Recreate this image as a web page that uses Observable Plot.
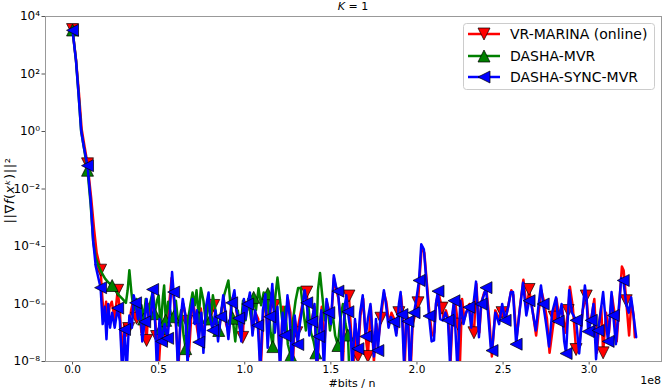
<!DOCTYPE html>
<html>
<head>
<meta charset="utf-8">
<script src="https://cdn.jsdelivr.net/npm/d3@7"></script>
<script src="https://cdn.jsdelivr.net/npm/@observablehq/plot@0.6"></script>
<style>
  html, body { margin: 0; padding: 0; background: white; }
  #chart { width: 665px; height: 389px; }
</style>
</head>
<body>
<div id="chart"></div>
<script>
// ---- data (x in units of 1e8 bits / n, y = ||grad f(x^k)||^2) ----
const seriesNames = ["VR-MARINA (online)", "DASHA-MVR", "DASHA-SYNC-MVR"];
const seriesColors = ["#ff0000", "#008000", "#0000ff"];

const xTicks = [0, 0.5, 1, 1.5, 2, 2.5, 3];
const xTickLabels = ["0.0", "0.5", "1.0", "1.5", "2.0", "2.5", "3.0"];
const yTicks = [1e-8, 1e-6, 1e-4, 1e-2, 1e0, 1e2, 1e4];
const yTickLabels = ["10\u207B\u2078", "10\u207B\u2076", "10\u207B\u2074", "10\u207B\u00B2", "10\u2070", "10\u00B2", "10\u2074"];

const vrMarina = [
[0,3.5e3],[0.02,3.2e2],[0.037,2.2e1],[0.053,1.2],[0.068,3.5e-1],[0.087,7.5e-2],[0.108,5e-3],[0.125,4e-4],[0.14,6e-5],[0.152,3e-5],
[0.163,1.5e-5],[0.172,2e-6],[0.182,3e-7],[0.195,1.2e-6],[0.205,2e-7],[0.215,8e-7],[0.228,1.2e-6],[0.245,3e-7],[0.262,3e-6],[0.275,6e-7],
[0.288,1e-8],[0.30,2e-7],[0.313,8e-8],[0.326,1.4e-7],[0.34,6e-7],[0.355,1.5e-6],[0.372,3.2e-7],[0.385,1.2e-6],[0.40,1e-7],[0.415,5e-7],
[0.43,5.4e-8],[0.442,1e-6],[0.455,3e-7],[0.467,2.5e-6],[0.478,4e-7],[0.488,7.4e-8],[0.50,5e-9],[0.515,2e-7],[0.53,1e-7],[0.545,4e-8],
[0.56,8e-7],[0.575,8e-6],[0.588,1.5e-6],[0.60,2e-7],[0.615,6e-9],[0.628,3e-7],[0.643,1e-6],[0.663,2.5e-7],[0.675,1.5e-8],[0.69,4e-7],
[0.70,1.2e-6],[0.715,3e-7],[0.73,8e-8],[0.745,7e-7],[0.76,5e-8],[0.775,5e-7],[0.79,2e-6],[0.805,4e-7],[0.82,8.9e-7],[0.835,3e-7],
[0.85,8e-8],[0.862,5e-7],[0.878,1.5e-6],[0.892,2e-7],[0.908,1e-7],[0.925,1.5e-6],[0.94,2e-6],[0.955,4e-7],[0.97,1.5e-7],[0.988,6.9e-8],
[1.0,1.2e-6],[1.015,6e-7],[1.03,1.8e-6],[1.045,1e-7],[1.062,5e-7],[1.078,3e-7],[1.092,4e-9],[1.108,5e-7],[1.122,1.5e-6],[1.135,1e-7],
[1.15,6e-7],[1.162,3e-6],[1.174,8.9e-7],[1.19,4e-7],[1.205,1e-8],[1.222,8e-7],[1.235,1.5e-7],[1.25,1.6e-6],[1.265,5e-7],[1.278,4e-9],
[1.29,3e-7],[1.302,1e-7],[1.318,3e-7],[1.335,1e-6],[1.348,2.5e-6],[1.36,2.6e-6],[1.375,1.2e-7],[1.39,3e-7],[1.405,8e-7],[1.42,4e-9],
[1.433,1.2e-7],[1.447,8e-7],[1.462,3e-8],[1.476,1.2e-6],[1.49,6e-7],[1.502,3e-7],[1.518,8e-6],[1.532,3e-6],[1.545,1.5e-6],[1.558,2e-7],
[1.568,4e-9],[1.582,6e-7],[1.595,1.5e-6],[1.605,1.9e-6],[1.62,6e-8],[1.63,3e-9],[1.643,2e-7],[1.657,1.5e-8],[1.672,4e-7],[1.688,1.5e-6],
[1.70,1e-7],[1.715,1.5e-8],[1.732,8e-7],[1.75,1e-8],[1.765,2e-7],[1.775,5e-8],[1.791,3.2e-7],[1.808,2.5e-6],[1.822,1.2e-6],[1.838,2e-7],
[1.852,5e-7],[1.868,3e-7],[1.882,1e-7],[1.895,5e-7],[1.907,2e-6],[1.916,6e-7],[1.928,5e-9],[1.94,4e-7],[1.95,3e-7],[1.962,3e-9],
[1.975,2e-7],[1.988,4e-7],[2.006,1.1e-6],[2.015,8e-6],[2.028,1e-4],[2.043,6e-5],[2.058,5e-6],[2.072,5e-7],[2.088,8e-8],[2.10,1e-7],
[2.112,1.2e-6],[2.125,2.5e-6],[2.145,7.2e-7],[2.155,3e-7],[2.168,6e-7],[2.182,3e-7],[2.195,1e-8],[2.208,5e-7],[2.22,1.5e-6],[2.238,2e-7],
[2.25,1e-8],[2.262,1.5e-6],[2.275,3e-7],[2.29,6e-7],[2.305,1e-6],[2.318,2e-7],[2.331,1e-7],[2.345,5e-6],[2.362,1e-7],[2.375,1.2e-6],
[2.39,2.5e-6],[2.404,3e-6],[2.42,3e-7],[2.435,1.5e-8],[2.455,6e-7],[2.478,3e-7],[2.494,5e-7],[2.515,3e-7],[2.532,1e-6],[2.548,3e-6],
[2.56,2e-6],[2.578,6e-8],[2.598,8e-7],[2.618,7e-6],[2.638,6e-7],[2.651,3.2e-6],[2.668,8e-7],[2.692,8e-8],[2.708,6e-7],[2.722,3e-6],
[2.738,1.2e-6],[2.755,3e-7],[2.77,2e-8],[2.797,3.5e-7],[2.81,1.5e-6],[2.825,4e-7],[2.842,8e-7],[2.86,1e-7],[2.878,5.9e-7],[2.888,4e-6],
[2.905,8e-7],[2.924,2.6e-8],[2.945,5e-8],[2.962,6e-7],[2.983,1.9e-6],[2.998,2e-7],[3.015,4e-7],[3.03,1.5e-6],[3.045,2e-8],[3.058,2e-7],
[3.07,8e-7],[3.081,2e-8],[3.098,5e-7],[3.115,1e-7],[3.132,2e-6],[3.145,6e-7],[3.16,5e-8],[3.175,1e-6],[3.19,2e-5],[3.2,1.5e-5],
[3.215,1.3e-6],[3.232,8e-8],[3.245,1.2e-6],[3.258,4e-7],[3.265,7e-8]
];
const vrMarinaMarkers = [
[0,3.5e3],[0.087,7.5e-2],[0.163,1.5e-5],[0.262,3e-6],[0.326,1.4e-7],[0.372,3.2e-7],[0.43,5.4e-8],[0.488,7.4e-8],[0.663,2.5e-7],[0.82,8.9e-7],
[0.988,6.9e-8],[1.174,8.9e-7],[1.302,1e-7],[1.36,2.6e-6],[1.605,1.9e-6],[1.657,1.5e-8],[1.715,1.5e-8],[1.791,3.2e-7],[1.895,5e-7],[2.006,1.1e-6],
[2.145,7.2e-7],[2.238,2e-7],[2.331,1e-7],[2.494,5e-7],[2.651,3.2e-6],[2.797,3.5e-7],[2.878,5.9e-7],[2.924,2.6e-8],[2.983,1.9e-6],[3.081,2e-8],
[3.215,1.3e-6]
];

const dashaMvr = [
[0,3.4e3],[0.02,3e2],[0.035,2e1],[0.05,1.0],[0.065,3e-1],[0.087,4.5e-2],[0.105,3e-3],[0.12,1.5e-4],[0.135,4e-5],[0.15,2.2e-5],
[0.17,1.2e-5],[0.19,7.5e-6],[0.21,5.5e-6],[0.23,4.4e-6],[0.25,3e-6],[0.27,2e-6],[0.29,1.5e-6],[0.31,1.1e-6],[0.32,3e-6],[0.33,1.5e-5],
[0.342,2.5e-6],[0.355,6e-7],[0.37,1.5e-6],[0.385,3e-7],[0.40,9e-7],[0.413,3e-7],[0.425,1.5e-6],[0.438,5e-7],[0.452,1.2e-6],[0.465,2.5e-6],
[0.477,4.6e-7],[0.49,1.3e-6],[0.50,2e-6],[0.512,1.4e-7],[0.525,1.8e-6],[0.532,4.4e-6],[0.541,2.7e-7],[0.555,1.2e-6],[0.57,5e-7],[0.587,3.6e-7],
[0.60,1.3e-6],[0.615,1.8e-7],[0.63,6e-7],[0.645,8e-8],[0.657,2.8e-8],[0.67,2.7e-7],[0.685,1e-6],[0.697,2.5e-6],[0.71,9e-7],[0.72,3e-6],
[0.733,3.4e-7],[0.745,3.6e-6],[0.76,1.3e-6],[0.775,2e-7],[0.79,1.5e-6],[0.802,3e-7],[0.815,2e-6],[0.83,6e-7],[0.849,1.2e-7],[0.865,6e-7],
[0.88,2e-6],[0.905,6.6e-6],[0.915,1.3e-6],[0.93,3.2e-7],[0.945,5e-8],[0.96,6e-7],[0.975,1.2e-7],[0.99,1.3e-6],[1.005,2.7e-7],[1.02,1.5e-6],
[1.037,3e-7],[1.052,1.7e-6],[1.065,6e-7],[1.08,3.5e-6],[1.095,9e-7],[1.11,2.5e-6],[1.123,5e-7],[1.134,2.3e-6],[1.15,1e-7],[1.163,3.3e-8],
[1.175,1.3e-6],[1.19,8.3e-6],[1.205,1.3e-6],[1.22,2e-7],[1.235,8e-7],[1.25,4e-8],[1.267,1.6e-8],[1.28,2.7e-7],[1.295,1.3e-6],[1.31,3.6e-6],
[1.325,3.6e-6],[1.34,5.9e-7],[1.355,1.2e-7],[1.37,8e-7],[1.385,1e-7],[1.40,5e-8],[1.413,2e-8],[1.425,3e-6],[1.437,1.2e-5],[1.45,2e-6],
[1.465,2.7e-7],[1.48,8.9e-7],[1.495,1.2e-7],[1.51,5e-7],[1.525,8e-8],[1.541,3.6e-8],[1.555,3e-7],[1.57,1e-6],[1.585,2e-7],[1.599,8.3e-8],
[1.607,5e-9]
];
const dashaMvrMarkers = [
[0,3.4e3],[0.087,4.5e-2],[0.23,4.4e-6],[0.413,3e-7],[0.477,4.6e-7],[0.512,1.4e-7],[0.541,2.7e-7],[0.587,3.6e-7],[0.657,2.8e-8],[0.733,3.4e-7],
[0.802,3e-7],[0.849,1.2e-7],[0.93,3.2e-7],[1.052,1.7e-6],[1.134,2.3e-6],[1.163,3.3e-8],[1.267,1.6e-8],[1.413,2e-8],[1.541,3.6e-8],[1.599,8.3e-8]
];

const dashaSyncMvr = [
[0,3.3e3],[0.02,3e2],[0.035,2e1],[0.05,1.1],[0.065,3e-1],[0.087,6.5e-2],[0.105,4e-3],[0.12,1.5e-4],[0.135,2e-5],[0.15,8e-6],
[0.163,3.7e-6],[0.175,2e-7],[0.187,8e-7],[0.197,6e-8],[0.207,1e-6],[0.218,1.5e-7],[0.23,5e-7],[0.245,1.5e-7],[0.262,7.2e-7],[0.275,2.5e-7],
[0.29,3e-9],[0.302,1.3e-7],[0.315,5e-9],[0.33,4e-7],[0.345,1.5e-7],[0.355,2e-6],[0.366,1.1e-6],[0.38,3e-7],[0.393,1e-6],[0.405,5e-8],
[0.419,2.4e-7],[0.43,1.5e-6],[0.445,2e-7],[0.455,4e-7],[0.465,3.2e-6],[0.48,2e-7],[0.49,5e-9],[0.505,3e-7],[0.517,5e-8],[0.535,2e-7],
[0.552,6.4e-8],[0.565,5e-7],[0.578,1.3e-5],[0.587,2.6e-6],[0.60,3e-7],[0.612,5e-9],[0.625,2e-7],[0.64,1.5e-6],[0.655,4e-7],[0.668,8e-9],
[0.682,3e-7],[0.697,1.5e-6],[0.71,2e-7],[0.722,6e-7],[0.733,4.7e-8],[0.748,5e-7],[0.76,2e-8],[0.775,8e-7],[0.79,2.5e-6],[0.80,3e-7],
[0.814,1.2e-7],[0.83,6e-7],[0.845,5e-8],[0.86,3.6e-7],[0.875,2e-6],[0.89,4e-7],[0.905,6e-8],[0.924,1.1e-6],[0.94,3e-6],[0.952,6e-7],
[0.965,3.2e-7],[0.98,5e-8],[0.995,1.5e-6],[1.005,3e-7],[1.017,1e-6],[1.03,2.5e-6],[1.045,8e-8],[1.06,6e-7],[1.076,1.8e-7],[1.09,5e-9],
[1.105,6e-7],[1.12,2.2e-6],[1.133,3e-8],[1.145,3.6e-7],[1.16,5e-6],[1.175,1e-7],[1.19,8e-7],[1.205,5e-9],[1.22,5e-7],[1.233,8e-8],
[1.248,2e-6],[1.262,3e-7],[1.275,5e-9],[1.29,4e-7],[1.308,3.9e-8],[1.32,2e-7],[1.335,8e-7],[1.348,3e-6],[1.36,1.1e-6],[1.375,8e-8],
[1.39,2.4e-7],[1.405,1e-6],[1.418,5e-9],[1.43,7.4e-8],[1.445,6e-7],[1.46,5e-9],[1.475,1.5e-6],[1.488,5e-7],[1.50,2e-7],[1.517,1e-5],
[1.53,4e-6],[1.541,2.8e-6],[1.555,3e-7],[1.565,5e-9],[1.58,8e-7],[1.59,2e-6],[1.599,5.4e-7],[1.615,1e-7],[1.625,5e-9],[1.64,3e-7],
[1.657,2.8e-8],[1.67,5e-7],[1.685,2e-6],[1.703,7.4e-8],[1.715,3e-7],[1.73,1e-6],[1.75,1.5e-8],[1.762,3e-7],[1.773,2.4e-8],[1.79,5e-7],
[1.808,3e-6],[1.82,1e-6],[1.835,1.5e-7],[1.849,3.5e-7],[1.866,2.4e-7],[1.88,8e-8],[1.895,1e-6],[1.905,2.6e-6],[1.913,4.3e-7],[1.925,8e-9],
[1.938,3e-7],[1.948,2.5e-7],[1.96,4e-9],[1.972,1.5e-7],[1.983,5e-7],[1.997,1.5e-6],[2.012,6.6e-6],[2.025,1.2e-4],[2.04,8e-5],[2.055,6e-6],
[2.07,3.8e-7],[2.085,5e-8],[2.099,5.4e-8],[2.11,1e-6],[2.122,2.8e-6],[2.135,3e-7],[2.15,2.7e-7],[2.165,5e-7],[2.18,2.7e-7],[2.192,8e-9],
[2.205,4e-7],[2.215,1.3e-6],[2.235,5e-9],[2.252,1.3e-6],[2.27,2e-7],[2.285,5e-7],[2.302,7.7e-7],[2.315,1.5e-7],[2.328,1e-6],[2.343,6e-6],
[2.36,7e-8],[2.372,1e-6],[2.388,2e-6],[2.401,3.7e-6],[2.418,2e-7],[2.43,2.4e-8],[2.436,2.4e-8],[2.455,5e-7],[2.477,2e-7],[2.495,1e-6],
[2.512,2.7e-7],[2.53,8e-7],[2.545,2.6e-6],[2.558,2.6e-6],[2.576,4e-8],[2.595,5e-7],[2.616,5.5e-6],[2.635,4e-7],[2.651,1.3e-6],[2.663,1.1e-6],
[2.69,1.2e-7],[2.705,8e-7],[2.72,4.4e-6],[2.733,1e-6],[2.75,2e-7],[2.767,3.3e-8],[2.785,5e-7],[2.808,1.7e-6],[2.82,2.5e-7],[2.84,1e-6],
[2.855,5e-8],[2.866,1.9e-8],[2.884,3e-6],[2.9,5e-7],[2.924,2.7e-7],[2.942,1.9e-8],[2.96,4e-7],[2.975,4.4e-6],[2.985,1.5e-6],[2.994,1.1e-7],
[3.012,2.7e-7],[3.025,1e-6],[3.04,1.2e-8],[3.052,1.2e-7],[3.066,5e-7],[3.081,2.6e-6],[3.095,3e-7],[3.11,5e-8],[3.13,2.6e-6],[3.14,4e-7],
[3.155,4e-8],[3.17,5e-7],[3.186,8e-6],[3.198,6.6e-6],[3.215,1e-6],[3.23,5e-7],[3.244,1.7e-6],[3.26,3e-7],[3.273,7e-8]
];
const dashaSyncMvrMarkers = [
[0,3.3e3],[0.087,6.5e-2],[0.163,3.7e-6],[0.262,7.2e-7],[0.302,1.3e-7],[0.366,1.1e-6],[0.419,2.4e-7],[0.465,3.2e-6],[0.517,5e-8],[0.552,6.4e-8],
[0.587,2.6e-6],[0.733,4.7e-8],[0.814,1.2e-7],[0.86,3.6e-7],[0.924,1.1e-6],[0.965,3.2e-7],[1.017,1e-6],[1.076,1.8e-7],[1.145,3.6e-7],[1.233,8e-8],
[1.308,3.9e-8],[1.36,1.1e-6],[1.39,2.4e-7],[1.43,7.4e-8],[1.488,5e-7],[1.541,2.8e-6],[1.599,5.4e-7],[1.657,2.8e-8],[1.703,7.4e-8],[1.773,2.4e-8],
[1.866,2.4e-7],[1.913,4.3e-7],[1.948,2.5e-7],[1.983,5e-7],[2.012,6.6e-6],[2.07,3.8e-7],[2.122,2.8e-6],[2.18,2.7e-7],[2.215,1.3e-6],[2.302,7.7e-7],
[2.372,1e-6],[2.401,3.7e-6],[2.436,2.4e-8],[2.512,2.7e-7],[2.576,4e-8],[2.651,1.3e-6],[2.733,1e-6],[2.82,2.5e-7],[2.866,1.9e-8],[2.924,2.7e-7],
[2.994,1.1e-7],[3.012,2.7e-7],[3.052,1.2e-7],[3.11,5e-8],[3.14,4e-7],[3.198,6.6e-6]
];

// ---- matplotlib-like triangle markers (isosceles, bbox-centred) ----
function triSymbol(dir) {
  return {
    draw(ctx, size) {
      const h = Math.sqrt(size / Math.PI);
      if (dir === "down") { ctx.moveTo(0, h); ctx.lineTo(-h, -h); ctx.lineTo(h, -h); }
      else if (dir === "up") { ctx.moveTo(0, -h); ctx.lineTo(-h, h); ctx.lineTo(h, h); }
      else { ctx.moveTo(-h, 0); ctx.lineTo(h, -h); ctx.lineTo(h, h); }
      ctx.closePath();
    }
  };
}
const symbols = [triSymbol("down"), triSymbol("up"), triSymbol("left")];
const lines = [vrMarina, dashaMvr, dashaSyncMvr];
const markers = [vrMarinaMarkers, dashaMvrMarkers, dashaSyncMvrMarkers];

const xLabelMap = new Map(xTicks.map((t, i) => [t, xTickLabels[i]]));
const yLabelMap = new Map(yTicks.map((t, i) => [t, yTickLabels[i]]));

const R = 6;
const seriesMarks = [];
for (let s = 0; s < 3; s++) {
  seriesMarks.push(Plot.line(lines[s], {x: d => d[0], y: d => d[1], stroke: seriesColors[s], strokeWidth: 2.5, clip: true, strokeLinejoin: "round"}));
  seriesMarks.push(Plot.dot(markers[s], {x: d => d[0], y: d => d[1], symbol: symbols[s], r: R, fill: seriesColors[s], stroke: "black", strokeWidth: 0.7, clip: true}));
}

const W = 665, H = 389;
const mL = 45, mR = 4, mT = 16, mB = 28;

const plot = Plot.plot({
  width: W, height: H,
  marginLeft: mL, marginRight: mR, marginTop: mT, marginBottom: mB,
  style: {fontFamily: "DejaVu Sans", fontSize: "11px", background: "white", color: "black"},
  x: {domain: [-0.157, 3.42]},
  y: {type: "log", domain: [1e-8, 1e4]},
  marks: [
    Plot.axisX({ticks: xTicks, tickFormat: d => xLabelMap.get(d), tickSize: 3.5, tickPadding: 0.5, label: null, stroke: "#555", fontSize: 10.5}),
    Plot.axisY({ticks: yTicks, tickFormat: d => yLabelMap.get(d), tickSize: 3.5, tickPadding: 2, label: null, stroke: "#555", fontSize: 12}),
    ...seriesMarks,
    Plot.frame({stroke: "#999", strokeWidth: 1})
  ]
});

document.getElementById("chart").appendChild(plot);

// ---- annotations: title, axis labels, offset, legend ----
const svg = d3.select(plot);
const cx = mL + (W - mL - mR) / 2;
const ann = svg.append("g").attr("text-anchor", "start").style("font-family", "DejaVu Sans");

const title = ann.append("text").attr("x", cx).attr("y", 10).attr("text-anchor", "middle").style("font-size", "11px");
title.append("tspan").style("font-style", "italic").text("K");
title.append("tspan").text(" = 1");

ann.append("text").attr("x", 352).attr("y", 387).attr("text-anchor", "middle")
  .style("font-size", "11px").text("#bits / n");

ann.append("text").attr("x", W - 4).attr("y", 384).attr("text-anchor", "end")
  .style("font-size", "11px").text("1e8");

const ylab = ann.append("text").attr("transform", `translate(14,${(mT + H - mB) / 2 + 2}) rotate(-90)`).attr("text-anchor", "middle")
  .style("font-size", "13px").style("letter-spacing", "0.6px");
ylab.append("tspan").text("||\u2207");
ylab.append("tspan").style("font-style", "italic").text("f");
ylab.append("tspan").text("(");
ylab.append("tspan").style("font-style", "italic").text("x\u1D4F");
ylab.append("tspan").text(")||\u00B2");

const lg = ann.append("g");
lg.append("rect").attr("x", 463.5).attr("y", 23.5).attr("width", 191).attr("height", 66).attr("rx", 3)
  .attr("fill", "white").attr("fill-opacity", 0.8).attr("stroke", "#cccccc").attr("stroke-width", 1);
const rowsY = [34, 56, 77];
for (let s = 0; s < 3; s++) {
  const y = rowsY[s];
  lg.append("line").attr("x1", 468).attr("x2", 500).attr("y1", y).attr("y2", y)
    .attr("stroke", seriesColors[s]).attr("stroke-width", 2.5);
  lg.append("path").attr("transform", `translate(484,${y})`)
    .attr("d", d3.symbol(symbols[s], Math.PI * R * R)())
    .attr("fill", seriesColors[s]).attr("stroke", "black").attr("stroke-width", 0.7);
  lg.append("text").attr("x", 510).attr("y", y + 5).attr("text-anchor", "start")
    .style("font-size", "14px").text(seriesNames[s]);
}
</script>
</body>
</html>
